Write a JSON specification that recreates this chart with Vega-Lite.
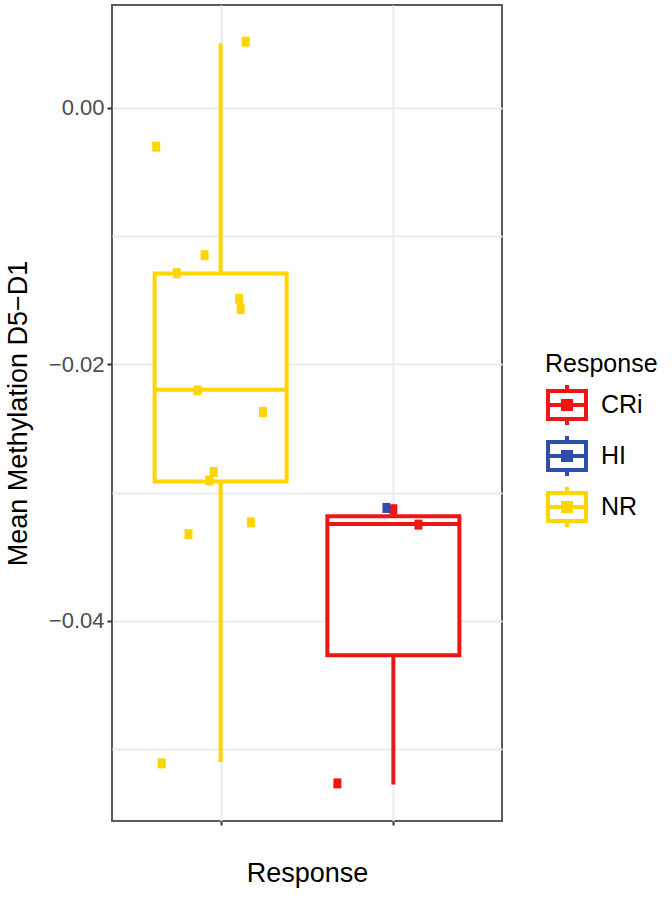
{
  "$schema": "https://vega.github.io/schema/vega-lite/v6.json",
  "width": 390,
  "height": 816,
  "autosize": {"type": "none"},
  "padding": {"left": 112, "top": 5, "right": 170, "bottom": 79},
  "background": "white",
  "config": {
    "font": "Liberation Sans",
    "view": {"stroke": "#5a5a5a", "strokeWidth": 2},
    "axis": {"domain": false, "gridColor": "#ebebeb", "gridWidth": 2, "tickColor": "#333333", "tickWidth": 2}
  },
  "datasets": {
    "boxes": [
      {"Response": "NR", "pos": 1, "whisker_low": -0.05101, "q1": -0.02913, "median": -0.02199, "q3": -0.01293, "whisker_high": 0.00502},
      {"Response": "CRi", "pos": 2, "whisker_low": -0.05275, "q1": -0.04268, "median": -0.03245, "q3": -0.03185, "whisker_high": -0.0312}
    ],
    "points": [
      {"Response": "NR", "pos": 1.145, "value": 0.00514},
      {"Response": "NR", "pos": 0.627, "value": -0.00304},
      {"Response": "NR", "pos": 0.907, "value": -0.0115},
      {"Response": "NR", "pos": 0.746, "value": -0.0129},
      {"Response": "NR", "pos": 1.107, "value": -0.0149},
      {"Response": "NR", "pos": 1.116, "value": -0.0157},
      {"Response": "NR", "pos": 0.866, "value": -0.02204},
      {"Response": "NR", "pos": 1.245, "value": -0.02372},
      {"Response": "NR", "pos": 0.960, "value": -0.0284},
      {"Response": "NR", "pos": 0.934, "value": -0.02907},
      {"Response": "NR", "pos": 0.814, "value": -0.03325},
      {"Response": "NR", "pos": 1.175, "value": -0.03232},
      {"Response": "NR", "pos": 0.659, "value": -0.05111},
      {"Response": "CRi", "pos": 1.676, "value": -0.05267},
      {"Response": "CRi", "pos": 2.145, "value": -0.0325},
      {"Response": "CRi", "pos": 2.0, "value": -0.0313},
      {"Response": "HI", "pos": 1.96, "value": -0.0312}
    ]
  },
  "layer": [
    {
      "data": {"name": "boxes"},
      "mark": {"type": "rule", "strokeWidth": 4},
      "encoding": {
        "x": {
          "field": "pos", "type": "quantitative",
          "scale": {"domain": [0.4, 2.6], "nice": false, "zero": false},
          "axis": {"values": [1, 2], "labels": false, "tickSize": 4, "title": "Response", "titleFontSize": 27, "titleFontWeight": "normal", "titleColor": "black", "titlePadding": 34}
        },
        "y": {
          "field": "whisker_low", "type": "quantitative",
          "scale": {"domain": [-0.0556, 0.008], "nice": false, "zero": false},
          "axis": {
            "values": [-0.05, -0.04, -0.03, -0.02, -0.01, 0],
            "format": ".2f",
            "labelExpr": "abs(round(datum.value*100)) % 2 == 0 ? datum.label : ''",
            "tickOpacity": {"condition": {"test": "abs(round(datum.value*100)) % 2 == 0", "value": 1}, "value": 0},
            "tickSize": 5,
            "labelFontSize": 22,
            "labelColor": "#4d4d4d",
            "labelPadding": 3,
            "title": "Mean Methylation D5\u2212D1",
            "titleFontSize": 27,
            "titleFontWeight": "normal",
            "titleColor": "black",
            "titlePadding": 16
          }
        },
        "y2": {"field": "whisker_high"},
        "color": {
          "field": "Response", "type": "nominal",
          "scale": {"domain": ["CRi", "HI", "NR"], "range": ["#EE1515", "#2E4DA8", "#FFD500"]},
          "legend": {
            "title": "Response",
            "orient": "none",
            "legendX": 433,
            "legendY": 347,
            "titleFontSize": 25,
            "titleFontWeight": "normal",
            "titleColor": "black",
            "titlePadding": 6,
            "labelFontSize": 25,
            "labelColor": "black",
            "labelOffset": 12,
            "rowPadding": -5,
            "symbolSize": 1600,
            "symbolStrokeWidth": 4,
            "symbolType": "M-0.95,-0.7H0.95V0.7H-0.95Z M-0.95,0H0.95 M0,-0.7V-1 M0,0.7V1 M-0.2,-0.2H0.2V0.2H-0.2Z M-0.1,-0.1H0.1V0.1H-0.1Z",
            "encode": {"symbols": {"update": {"fillOpacity": {"value": 0}, "strokeWidth": {"value": 4}, "opacity": {"value": 1}}}}
          }
        }
      }
    },
    {
      "data": {"name": "boxes"},
      "mark": {"type": "bar", "width": 132, "fill": "white", "filled": false, "strokeWidth": 4, "opacity": 1},
      "encoding": {
        "x": {"field": "pos", "type": "quantitative"},
        "y": {"field": "q1", "type": "quantitative"},
        "y2": {"field": "q3"},
        "color": {"field": "Response", "type": "nominal"}
      }
    },
    {
      "data": {"name": "boxes"},
      "mark": {"type": "tick", "orient": "horizontal", "size": 132, "thickness": 4, "opacity": 1},
      "encoding": {
        "x": {"field": "pos", "type": "quantitative"},
        "y": {"field": "median", "type": "quantitative"},
        "color": {"field": "Response", "type": "nominal"}
      }
    },
    {
      "data": {"name": "points"},
      "mark": {"type": "point", "filled": true, "opacity": 1, "size": 100, "shape": "M-0.8,-1H0.8V1H-0.8Z"},
      "encoding": {
        "x": {"field": "pos", "type": "quantitative"},
        "y": {"field": "value", "type": "quantitative"},
        "color": {"field": "Response", "type": "nominal"}
      }
    }
  ]
}
